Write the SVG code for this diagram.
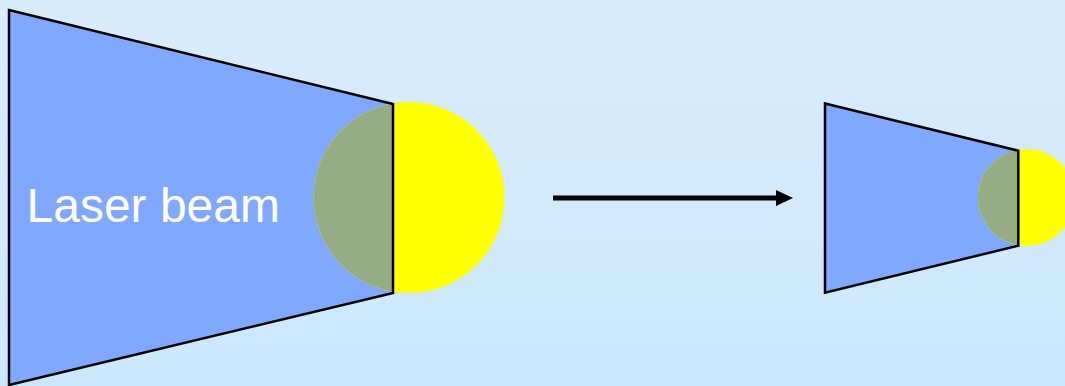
<svg xmlns="http://www.w3.org/2000/svg" width="1065" height="386" viewBox="0 0 1065 386">
  <defs>
    <linearGradient id="bg" x1="0" y1="0" x2="0" y2="1">
      <stop offset="0" stop-color="#d9ecfb"/>
      <stop offset="1" stop-color="#cbe8fd"/>
    </linearGradient>
    <clipPath id="clipBig"><polygon points="9,10 393,104 393,293 9,385"/></clipPath>
    <clipPath id="clipSmall"><polygon points="825,103.5 1018.3,150.7 1018.3,245.7 825,292.7"/></clipPath>
    <marker id="arrow" markerUnits="userSpaceOnUse" markerWidth="17" markerHeight="17" refX="1" refY="8.5" orient="auto" viewBox="0 0 17 17" overflow="visible">
      <path d="M0,0.5 L17,8.5 L0,16.5 Z" fill="#000"/>
    </marker>
    <style>
      .beam { fill: #80a8ff; stroke: none; }
      .edge { fill: none; stroke: #000; stroke-width: 2.5; stroke-linejoin: miter; }
      .spot { fill: #ffff00; }
      .overlap { fill: #95ae85; }
      .label { font-family: "Liberation Sans", Arial, sans-serif; font-size: 48px; fill: #ffffff; }
    </style>
  </defs>
  <rect x="0" y="0" width="1065" height="386" fill="url(#bg)"/>

  <g id="beam-large">
    <polygon class="beam" points="9,10 393,104 393,293 9,385"/>
    <circle class="spot" cx="409" cy="197.5" r="95.5"/>
    <circle class="overlap" cx="409" cy="197.5" r="95.5" clip-path="url(#clipBig)"/>
    <polygon class="edge" points="9,10 393,104 393,293 9,385"/>
    <text class="label" x="26.5" y="222">Laser beam</text>
  </g>

  <g id="beam-small">
    <polygon class="beam" points="825,103.5 1018.3,150.7 1018.3,245.7 825,292.7"/>
    <circle class="spot" cx="1026.5" cy="197.5" r="48.5"/>
    <circle class="overlap" cx="1026.5" cy="197.5" r="48.5" clip-path="url(#clipSmall)"/>
    <polygon class="edge" points="825,103.5 1018.3,150.7 1018.3,245.7 825,292.7"/>
  </g>

  <g id="connectors">
    <line x1="553" y1="198" x2="777" y2="198" stroke="#000" stroke-width="5" marker-end="url(#arrow)"/>
  </g>
</svg>
